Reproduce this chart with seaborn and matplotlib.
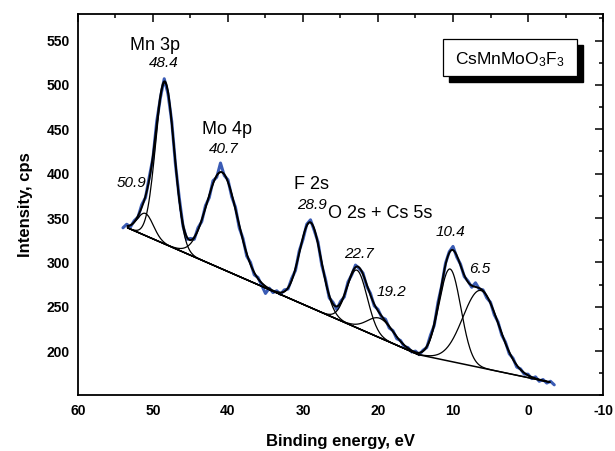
import numpy as np
import pandas as pd
import matplotlib
matplotlib.use("Agg")
import matplotlib.pyplot as plt
import seaborn as sns
from matplotlib.patches import Rectangle
from matplotlib.ticker import MultipleLocator

# ---------------- data ----------------
energy_start = 54.0      # eV, first measured point
energy_step = 0.5        # eV
measured_cps = [
    339, 343, 340, 347, 351, 365, 373, 396, 418, 459, 486, 507, 490, 459, 410, 373,
    341, 326, 327, 326, 339, 346, 364, 373, 392, 396, 412, 398, 393, 374, 362, 339,
    327, 307, 300, 286, 283, 274, 265, 271, 266, 268, 264, 269, 270, 282, 291, 313,
    326, 343, 348, 336, 323, 297, 281, 260, 255, 247, 256, 261, 278, 286, 297, 293,
    288, 273, 265, 251, 247, 238, 236, 226, 223, 214, 212, 205, 204, 199, 200, 196,
    201, 204, 218, 229, 255, 274, 299, 312, 318, 306, 298, 284, 279, 272, 277, 270,
    269, 260, 255, 241, 233, 218, 210, 197, 192, 182, 180, 174, 174, 169, 171, 166,
    168, 164, 166, 162,
]

bg_knots_ev = [53.4, 14.6, -2.9]
bg_knots_cps = [339, 196, 165]

peak_centers = [51.0, 48.4, 40.8, 29.0, 22.8, 19.7, 10.4, 6.3]
peak_heights = [25, 182, 109, 96, 65, 22, 104, 87]
peak_fwhm = [2.5, 2.9, 4.8, 3.4, 3.2, 4.0, 3.4, 5.6]
peak_segment = [0, 0, 0, 0, 0, 0, 1, 1]

line_names = ["Mn 3p", "Mo 4p", "F 2s", "O 2s + Cs 5s"]
energy_labels = ["50.9", "48.4", "40.7", "28.9", "22.7", "19.2", "10.4", "6.5"]
compound = r"CsMnMoO$_3$F$_3$"

# ---------------- style ----------------
sns.set_style("white")
plt.rcParams["font.family"] = ["Liberation Sans", "DejaVu Sans"]
plt.rcParams["mathtext.fontset"] = "custom"
plt.rcParams["mathtext.rm"] = "Liberation Sans"
plt.rcParams["mathtext.it"] = "Liberation Sans:italic"
plt.rcParams["axes.unicode_minus"] = False
for k in ["text.color", "axes.labelcolor", "xtick.color", "ytick.color", "axes.edgecolor"]:
    plt.rcParams[k] = "black"

fig = plt.figure(figsize=(6.15, 4.51), dpi=100)
ax = fig.add_axes([0.1268, 0.1231, 0.8537, 0.8459])

# measured spectrum
x_meas = energy_start - energy_step * np.arange(len(measured_cps))
df_meas = pd.DataFrame({"E": x_meas, "I": measured_cps})
sns.lineplot(data=df_meas, x="E", y="I", ax=ax, color="#3b5cb5", lw=2.2,
             sort=False, estimator=None)

# background
bx = np.array(bg_knots_ev)[::-1]
by = np.array(bg_knots_cps)[::-1]


def background(e):
    return np.interp(e, bx, by)


def gauss(e, c, h, w):
    return h * np.exp(-4 * np.log(2) * ((e - c) / w) ** 2)


seg_ranges = [(bg_knots_ev[1], bg_knots_ev[0]), (bg_knots_ev[2], bg_knots_ev[1])]
e_fit = np.linspace(bg_knots_ev[0], bg_knots_ev[2], 800)

# components
for c, h, w, s in zip(peak_centers, peak_heights, peak_fwhm, peak_segment):
    lo, hi = seg_ranges[s]
    e = np.linspace(hi, lo, 300)
    comp = background(e) + gauss(e, c, h, w)
    sns.lineplot(x=e, y=comp, ax=ax, color="black", lw=0.9, sort=False, estimator=None)

# envelope
total = background(e_fit) + sum(gauss(e_fit, c, h, w)
                                for c, h, w in zip(peak_centers, peak_heights, peak_fwhm))
sns.lineplot(x=e_fit, y=total, ax=ax, color="black", lw=1.4, sort=False, estimator=None)
# background line
ax.plot(bg_knots_ev, bg_knots_cps, color="black", lw=1.1)

# ---------------- axes ----------------
ax.set_xlim(60, -10)
ax.set_ylim(150, 580)
ax.xaxis.set_major_locator(MultipleLocator(10))
ax.xaxis.set_minor_locator(MultipleLocator(5))
ax.set_yticks([200, 250, 300, 350, 400, 450, 500, 550])
ax.yaxis.set_minor_locator(MultipleLocator(25))
ax.tick_params(which="both", direction="in", top=True, right=True, width=1.1,
               color="black", labelcolor="black")
ax.tick_params(which="major", length=6, labelsize=10, pad=6)
ax.tick_params(which="minor", length=3)
for lab in ax.get_xticklabels() + ax.get_yticklabels():
    lab.set_fontweight("bold")
for sp in ax.spines.values():
    sp.set_linewidth(1.3)
    sp.set_color("black")

ax.set_xlabel("Binding energy, eV", fontsize=12, fontweight="bold", labelpad=12)
ax.set_ylabel("Intensity, cps", fontsize=12, fontweight="bold", labelpad=10)

# ---------------- annotations ----------------
name_pos = [(49.7, 545), (40.1, 450), (28.8, 388), (19.7, 355)]
for t, (xx, yy) in zip(line_names, name_pos):
    ax.text(xx, yy, t, fontsize=13, ha="center", va="center")

lab_pos = [(52.8, 390), (48.6, 525), (40.5, 428), (28.8, 365),
           (22.6, 310), (18.2, 267), (10.4, 334), (6.4, 292)]
for t, (xx, yy) in zip(energy_labels, lab_pos):
    ax.text(xx, yy, t, fontsize=11, style="italic", ha="center", va="center")

# compound box with shadow
x0, x1, y0, y1 = 0.6958, 0.9499, 0.8375, 0.9345
ax.add_patch(Rectangle((x0 + 0.0114, y0 - 0.0157), x1 - x0, y1 - y0,
                       transform=ax.transAxes, facecolor="black", edgecolor="black",
                       zorder=5))
ax.add_patch(Rectangle((x0, y0), x1 - x0, y1 - y0, transform=ax.transAxes,
                       facecolor="white", edgecolor="black", lw=0.9, zorder=6))
ax.text((x0 + x1) / 2, (y0 + y1) / 2 - 0.005, compound, transform=ax.transAxes,
        fontsize=12.5, ha="center", va="center", zorder=7)

fig.savefig("out.png", dpi=100)
